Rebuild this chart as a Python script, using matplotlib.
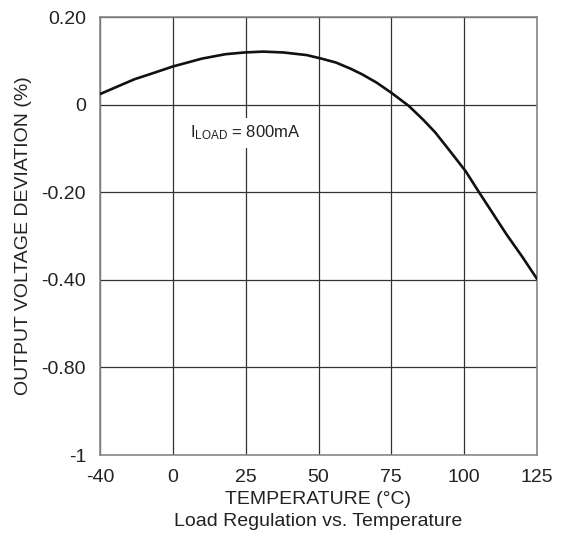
import numpy as np
import matplotlib
matplotlib.use("Agg")
import matplotlib.pyplot as plt

plt.rcParams['font.family'] = ['Liberation Sans', 'DejaVu Sans']
plt.rcParams['mathtext.fontset'] = 'custom'
plt.rcParams['mathtext.rm'] = 'Liberation Sans'
plt.rcParams['mathtext.it'] = 'Liberation Sans'

# Data
temps = [-40, -30, -21, -10, 0, 5, 10, 18, 24.5, 31, 38, 46, 51, 56, 61, 65,
         70, 75, 81, 86, 90, 95, 100.5, 105, 110, 114.5, 120, 125]
deviation = [0.024, 0.042, 0.058, 0.073, 0.087, 0.096, 0.105, 0.115, 0.119,
             0.121, 0.119, 0.113, 0.105, 0.096, 0.082, 0.069, 0.050, 0.027,
             -0.003, -0.035, -0.063, -0.105, -0.152, -0.199, -0.250, -0.296,
             -0.348, -0.398]
x_ticks = [-40, 0, 25, 50, 75, 100, 125]
x_labels = ['-40', '0', '25', '50', '75', '100', '125']
y_ticks = [-1.0, -0.8, -0.4, -0.2, 0.0, 0.2]
y_labels = ['-1', '-0.80', '-0.40', '-0.20', '0', '0.20']

# Equally spaced tick positions (piecewise-linear axes as in the datasheet)
xpos = np.arange(len(x_ticks), dtype=float)
ypos = np.arange(len(y_ticks), dtype=float)

def xf(v):
    return np.interp(v, x_ticks, xpos)
def xi(p):
    return np.interp(p, xpos, x_ticks)
def yf(v):
    return np.interp(v, y_ticks, ypos)
def yi(p):
    return np.interp(p, ypos, y_ticks)

fig = plt.figure(figsize=(5.64, 5.5), dpi=100)
ax = fig.add_axes([100/564, 1-455/550, 437/564, 438/550])
ax.set_xscale('function', functions=(xf, xi))
ax.set_yscale('function', functions=(yf, yi))

ax.plot(temps, deviation, color='#111111', lw=1.9, solid_joinstyle='round', zorder=3)

ax.set_xlim(-40, 125)
ax.set_ylim(-1.0, 0.2)
ax.set_xticks(x_ticks)
ax.set_xticklabels(x_labels)
ax.set_yticks(y_ticks)
ax.set_yticklabels(y_labels)
ax.minorticks_off()
ax.tick_params(axis='both', length=0, colors='#222222')
ax.tick_params(axis='x', pad=10, labelsize=14)
ax.tick_params(axis='y', pad=10, labelsize=14)
ax.grid(True, color='#333333', lw=0.9)
ax.set_axisbelow(True)
for s in ax.spines.values():
    s.set_color('#888888')
    s.set_linewidth(1.2)

ax.set_ylabel('OUTPUT VOLTAGE DEVIATION (%)', fontsize=14, color='#222222', labelpad=7)

ax.text(6, -0.065, r'I$_{\mathrm{LOAD}}$ = 800mA', fontsize=12, color='#222222',
        ha='left', va='center',
        bbox=dict(facecolor='white', edgecolor='none', pad=4), zorder=4)

fig.text(318/564, 1-499/550, 'TEMPERATURE (°C)', fontsize=14, color='#222222',
         ha='center', va='center')
fig.text(318/564, 1-522/550, 'Load Regulation vs. Temperature', fontsize=14,
         color='#222222', ha='center', va='center')

fig.savefig('out.png', dpi=100)
